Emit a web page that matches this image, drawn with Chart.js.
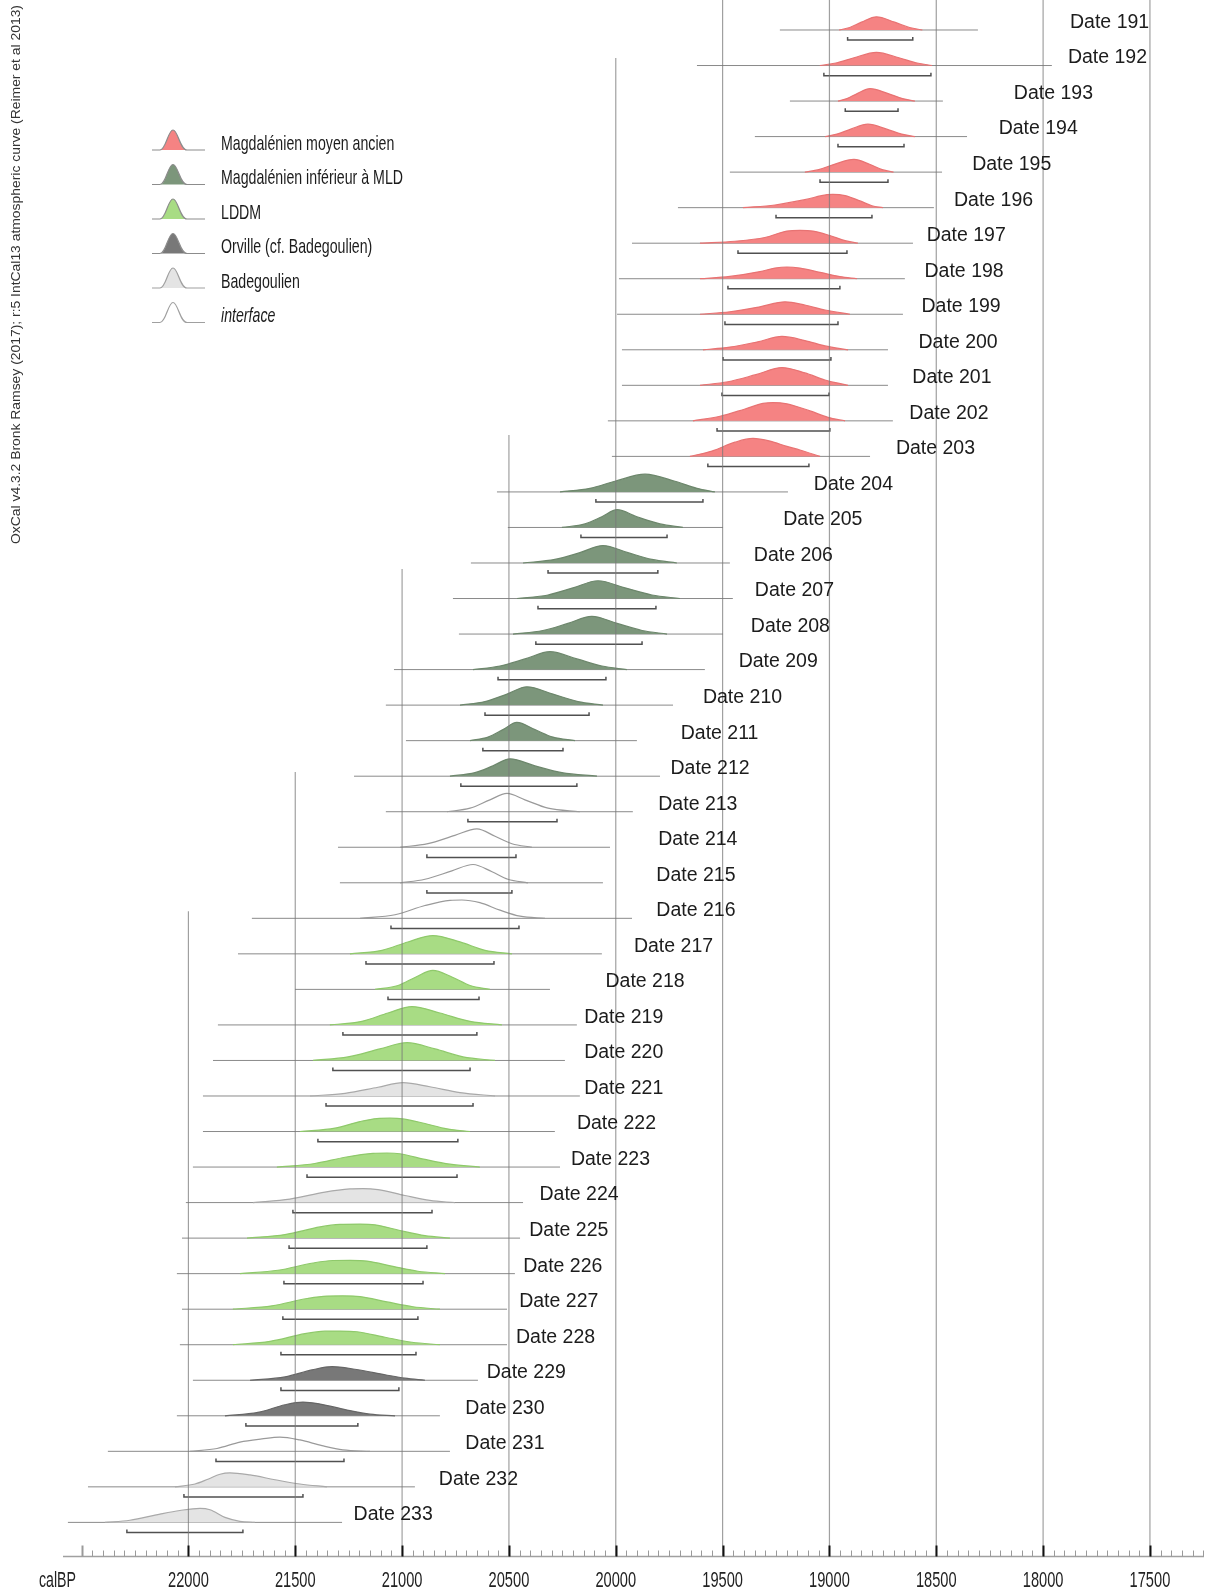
<!DOCTYPE html>
<html>
<head>
<meta charset="utf-8">
<script src="https://cdn.jsdelivr.net/npm/chart.js@4.4.0/dist/chart.umd.min.js"></script>
<style>
  html, body { margin: 0; padding: 0; background: #fff; }
  #wrap { width: 1207px; height: 1593px; position: relative; }
</style>
</head>
<body>
<div id="wrap"><canvas id="oxcalChart" width="1207" height="1593"></canvas></div>
<script>
// Row labels, top to bottom
const dateLabels = ['Date 191', 'Date 192', 'Date 193', 'Date 194', 'Date 195', 'Date 196', 'Date 197',
    'Date 198', 'Date 199', 'Date 200', 'Date 201', 'Date 202', 'Date 203', 'Date 204', 'Date 205',
    'Date 206', 'Date 207', 'Date 208', 'Date 209', 'Date 210', 'Date 211', 'Date 212', 'Date 213',
    'Date 214', 'Date 215', 'Date 216', 'Date 217', 'Date 218', 'Date 219', 'Date 220', 'Date 221',
    'Date 222', 'Date 223', 'Date 224', 'Date 225', 'Date 226', 'Date 227', 'Date 228', 'Date 229',
    'Date 230', 'Date 231', 'Date 232', 'Date 233'];

// Cultural groups (legend order)
const groupNames = ['Magdalénien moyen ancien', 'Magdalénien inférieur à MLD', 'LDDM',
    'Orville (cf. Badegoulien)', 'Badegoulien', 'interface'];

// Group of each date
const dateGroup = [0, 0, 0, 0, 0, 0, 0, 0, 0, 0, 0, 0, 0,
    1, 1, 1, 1, 1, 1, 1, 1, 1,
    5, 5, 5, 5,
    2, 2, 2, 2, 4, 2, 2, 4, 2, 2, 2, 2,
    3, 3, 5, 4, 4];

// Extent of the plotted distribution (calBP)
const rangeFrom = [19232, 19620, 19185, 19349, 19466, 19709, 19924, 19985, 19994, 19971, 19971, 20037, 20018,
    20556, 20505, 20678, 20762, 20734, 21038, 21076, 20982, 21225, 21076, 21300, 21291, 21703, 21768,
    21501, 21862, 21885, 21932, 21932, 21979, 22012, 22030, 22054, 22030, 22040, 21979, 22054, 22377,
    22470, 22564];
const rangeTo = [18305, 17959, 18469, 18356, 18473, 18511, 18609, 18647, 18656, 18726, 18726, 18703, 18810,
    19194, 19498, 19466, 19452, 19498, 19583, 19732, 19901, 19793, 19920, 20027, 20060, 19924, 20065,
    20308, 20182, 20238, 20168, 20285, 20261, 20434, 20448, 20472, 20509, 20509, 20645, 20823, 20776,
    20940, 21281];

// 95.4% ranges (brackets)
const hpdFrom = [18915, 19026, 18926, 18960, 19044, 19250, 19428, 19475, 19489, 19498, 19503, 19526, 19569,
    20093, 20163, 20317, 20364, 20374, 20551, 20612, 20622, 20725, 20692, 20884, 20884, 21052, 21169,
    21066, 21277, 21324, 21356, 21394, 21445, 21511, 21529, 21553, 21558, 21567, 21567, 21731, 21871,
    22021, 22288];
const hpdTo = [18610, 18525, 18679, 18651, 18726, 18801, 18918, 18951, 18960, 18993, 19002, 18998, 19096,
    19592, 19760, 19803, 19812, 19877, 20046, 20125, 20247, 20182, 20275, 20467, 20486, 20453, 20570,
    20640, 20650, 20682, 20668, 20739, 20743, 20860, 20884, 20902, 20926, 20935, 21015, 21207, 21272,
    21464, 21745];

// Where each label starts (calBP)
const labelAt = [17874, 17884, 18137, 18208, 18332, 18417, 18545, 18555, 18569, 18583, 18612, 18626, 18689,
    19073, 19216, 19354, 19349, 19368, 19425, 19592, 19696, 19744, 19801, 19801, 19810, 19810, 19915,
    20048, 20148, 20148, 20148, 20182, 20210, 20357, 20405, 20433, 20452, 20467, 20604, 20704, 20704,
    20828, 21227];

// Probability curves: [calBP, height in row units]
const densities = [
    [[18955, 0], [18905, .07], [18850, .22], [18780, .37], [18695, .22], [18625, .07], [18565, 0]],
    [[19045, 0], [18970, .07], [18885, .22], [18780, .37], [18675, .22], [18590, .07], [18520, 0]],
    [[18960, 0], [18918, .07], [18870, .21], [18810, .35], [18725, .21], [18658, .07], [18600, 0]],
    [[19020, 0], [18965, .07], [18900, .21], [18820, .35], [18732, .21], [18662, .07], [18600, 0]],
    [[19115, 0], [19050, .07], [18977, .22], [18885, .36], [18812, .22], [18753, .07], [18700, 0]],
    [[19405, 0], [19255, .075], [19115, .225], [19012, .365], [18984, .375], [18927, .34], [18857, .19], [18801, .055], [18750, 0]],
    [[19606, 0], [19442, .054], [19302, .16], [19199, .34], [19138, .36], [19077, .34], [18998, .215], [18927, .072], [18867, 0]],
    [[19606, 0], [19466, .066], [19325, .2], [19255, .3], [19199, .33], [19138, .3], [19044, .18], [18951, .06], [18871, 0]],
    [[19606, 0], [19466, .07], [19325, .21], [19208, .35], [19115, .26], [19021, .12], [18904, 0]],
    [[19592, 0], [19466, .075], [19335, .225], [19222, .375], [19115, .26], [19021, .11], [18913, 0]],
    [[19606, 0], [19475, .1], [19344, .3], [19222, .5], [19115, .35], [19021, .15], [18913, 0]],
    [[19639, 0], [19512, .13], [19395, .335], [19311, .49], [19264, .515], [19199, .48], [19091, .28], [19007, .1], [18927, 0]],
    [[19653, 0], [19550, .15], [19442, .4], [19358, .505], [19278, .43], [19199, .28], [19138, .18], [19044, 0]],
    [[20261, 0], [20121, .1], [20004, .3], [19863, .5], [19723, .3], [19620, .1], [19536, 0]],
    [[20252, 0], [20144, .1], [20065, .3], [19994, .5], [19901, .3], [19793, .1], [19686, 0]],
    [[20434, 0], [20285, .1], [20168, .29], [20060, .49], [19943, .29], [19831, .1], [19714, 0]],
    [[20462, 0], [20317, .1], [20200, .3], [20083, .5], [19957, .3], [19831, .1], [19700, 0]],
    [[20481, 0], [20341, .1], [20224, .3], [20112, .5], [19994, .3], [19877, .1], [19760, 0]],
    [[20668, 0], [20542, .1], [20425, .3], [20308, .505], [20182, .3], [20065, .1], [19948, 0]],
    [[20729, 0], [20612, .1], [20509, .31], [20416, .515], [20294, .31], [20177, .1], [20060, 0]],
    [[20682, 0], [20598, .1], [20528, .31], [20463, .515], [20378, .31], [20294, .1], [20191, 0]],
    [[20776, 0], [20659, .1], [20575, .29], [20495, .49], [20378, .29], [20252, .1], [20088, 0]],
    [[20790, 0], [20682, .1], [20589, .335], [20509, .515], [20425, .335], [20317, .1], [20168, 0]],
    [[21010, 0], [20879, .1], [20753, .335], [20650, .515], [20565, .31], [20486, .1], [20392, 0]],
    [[21010, 0], [20893, .1], [20767, .335], [20668, .515], [20579, .31], [20505, .1], [20411, 0]],
    [[21197, 0], [21033, .1], [20893, .36], [20776, .505], [20720, .515], [20636, .44], [20542, .23], [20448, .06], [20331, 0]],
    [[21244, 0], [21094, .1], [20973, .335], [20856, .515], [20729, .335], [20612, .1], [20486, 0]],
    [[21127, 0], [21019, .11], [20935, .35], [20856, .535], [20767, .35], [20682, .11], [20589, 0]],
    [[21338, 0], [21188, .1], [21066, .335], [20954, .515], [20823, .335], [20682, .1], [20533, 0]],
    [[21417, 0], [21253, .1], [21104, .325], [20977, .5], [20846, .325], [20715, .1], [20565, 0]],
    [[21431, 0], [21267, .075], [21113, .245], [20996, .375], [20870, .26], [20729, .095], [20565, 0]],
    [[21478, 0], [21314, .095], [21197, .28], [21118, .365], [21057, .375], [20996, .355], [20893, .225], [20790, .075], [20682, 0]],
    [[21586, 0], [21408, .1], [21267, .275], [21136, .385], [21071, .395], [21010, .375], [20893, .215], [20776, .08], [20636, 0]],
    [[21698, 0], [21525, .1], [21361, .295], [21244, .385], [21183, .395], [21113, .365], [20987, .2], [20870, .06], [20753, 0]],
    [[21726, 0], [21548, .1], [21384, .315], [21291, .385], [21197, .395], [21127, .375], [21010, .215], [20893, .07], [20776, 0]],
    [[21759, 0], [21581, .095], [21417, .3], [21324, .37], [21244, .375], [21164, .355], [21043, .205], [20926, .068], [20799, 0]],
    [[21792, 0], [21609, .095], [21445, .3], [21352, .37], [21277, .375], [21197, .355], [21071, .205], [20949, .068], [20823, 0]],
    [[21792, 0], [21618, .095], [21455, .31], [21361, .38], [21291, .385], [21211, .365], [21080, .21], [20954, .07], [20823, 0]],
    [[21712, 0], [21548, .095], [21422, .29], [21328, .385], [21221, .31], [21080, .155], [20987, .058], [20893, 0]],
    [[21829, 0], [21675, .095], [21548, .31], [21464, .385], [21384, .33], [21267, .175], [21150, .045], [21033, 0]],
    [[21993, 0], [21866, .08], [21759, .26], [21656, .35], [21572, .4], [21478, .32], [21375, .16], [21277, .04], [21150, 0]],
    [[22063, 0], [21969, .08], [21909, .215], [21852, .355], [21806, .395], [21712, .335], [21595, .2], [21478, .08], [21352, 0]],
    [[22391, 0], [22274, .06], [22133, .235], [22040, .335], [21946, .395], [21899, .355], [21829, .14], [21759, .03], [21689, 0]]
];

// Axis ticks / vertical guide lines, and the row where each guide line starts
const tickLabels = [22000, 21500, 21000, 20500, 20000, 19500, 19000, 18500, 18000, 17500];
const gridFromRow = [24.8, 20.88, 15.17, 11.4, 0.79, -0.85, -0.85, -0.85, -0.85, -0.85];

const axisRow = 42.96;
const fillColors = ['#f58383', '#7c967b', '#a8dc84', '#787878', '#e4e4e4', 'rgba(0,0,0,0)'];
const lineColors = ['#e87373', '#6d876c', '#8fc96b', '#666666', '#a9a9a9', '#9a9a9a'];

// Build the datasets
const datasets = [];
dateLabels.forEach((name, i) => {
    const g = dateGroup[i];
    datasets.push({
        label: name + ' curve',
        data: densities[i].map(p => ({ x: p[0], y: i - p[1] })),
        borderColor: lineColors[g],
        borderWidth: 1.2,
        backgroundColor: fillColors[g],
        fill: g === 5 ? false : { value: i },
        cubicInterpolationMode: 'monotone',
        pointRadius: 0,
        order: 2
    });
    datasets.push({
        label: name + ' range',
        data: [{ x: rangeFrom[i], y: i }, { x: rangeTo[i], y: i }],
        borderColor: '#8a8a8a',
        borderWidth: 1,
        pointRadius: 0,
        fill: false,
        order: 3
    });
    const by = i + 0.285;
    datasets.push({
        label: name + ' 95%',
        data: [{ x: hpdFrom[i], y: by - 0.085 }, { x: hpdFrom[i], y: by },
               { x: hpdTo[i], y: by }, { x: hpdTo[i], y: by - 0.085 }],
        borderColor: '#505050',
        borderWidth: 1.5,
        pointRadius: 0,
        fill: false,
        order: 1
    });
});
tickLabels.forEach((v, k) => {
    datasets.push({
        label: 'grid ' + v,
        data: [{ x: v, y: gridFromRow[k] }, { x: v, y: axisRow }],
        borderColor: 'rgba(120,120,120,0.7)',
        borderWidth: 1.2,
        pointRadius: 0,
        fill: false,
        order: -1
    });
});

// Text drawn horizontally squeezed, like the narrow font of the original
function narrowText(ctx, text, x, y, size, squeeze, align, italic) {
    ctx.save();
    ctx.translate(x, y);
    ctx.scale(squeeze, 1);
    ctx.font = (italic ? 'italic ' : '') + size + 'px "Liberation Sans", Arial, sans-serif';
    ctx.textAlign = align;
    ctx.textBaseline = 'middle';
    ctx.fillText(text, 0, 0);
    ctx.restore();
}

const oxcalDecor = {
    id: 'oxcalDecor',
    afterDraw(chart) {
        const ctx = chart.ctx;
        const xs = chart.scales.x;
        const ys = chart.scales.y;
        const area = chart.chartArea;

        // Date labels
        ctx.save();
        ctx.fillStyle = '#1c1c1c';
        ctx.font = '19.5px "Liberation Sans", Arial, sans-serif';
        ctx.textBaseline = 'middle';
        dateLabels.forEach((t, i) => {
            ctx.fillText(t, xs.getPixelForValue(labelAt[i]), ys.getPixelForValue(i) - 7.5);
        });
        ctx.restore();

        // Time axis
        const base = ys.getPixelForValue(axisRow);
        ctx.save();
        ctx.strokeStyle = '#a0a0a0';
        ctx.lineWidth = 1.5;
        ctx.beginPath();
        ctx.moveTo(area.left, base);
        ctx.lineTo(area.right, base);
        ctx.stroke();
        for (let v = 17250; v <= 22500; v += 50) {
            const px = Math.round(xs.getPixelForValue(v)) + 0.5;
            const major = v % 500 === 0;
            ctx.strokeStyle = major && v <= 22000 ? '#111' : '#9a9a9a';
            ctx.lineWidth = major ? 2 : 1;
            ctx.beginPath();
            ctx.moveTo(px, base);
            ctx.lineTo(px, base - (major ? 11 : 6));
            ctx.stroke();
        }
        ctx.fillStyle = '#222';
        tickLabels.forEach(v => narrowText(ctx, String(v), xs.getPixelForValue(v), base + 24.5, 22.5, 0.65, 'center'));
        narrowText(ctx, 'calBP', 39, base + 24.5, 22.5, 0.63, 'left');
        ctx.restore();

        // Legend
        ctx.save();
        groupNames.forEach((name, g) => {
            const b = 150 + 34.5 * g;
            ctx.beginPath();
            ctx.moveTo(152, b);
            ctx.lineTo(160, b);
            ctx.bezierCurveTo(166, b, 168, b - 20, 173, b - 20);
            ctx.bezierCurveTo(178, b - 20, 180, b, 187, b);
            ctx.lineTo(205, b);
            if (g !== 5) {
                ctx.fillStyle = fillColors[g];
                ctx.fill();
            }
            ctx.strokeStyle = g === 5 || g === 4 ? '#a0a0a0' : '#8c8c8c';
            ctx.lineWidth = 1.2;
            ctx.stroke();
            ctx.fillStyle = '#1c1c1c';
            narrowText(ctx, name, 221, b - 6, 21, 0.675, 'left', g === 5);
        });
        ctx.restore();

        // Software credit on the left edge
        ctx.save();
        const credit = 'OxCal v4.3.2 Bronk Ramsey (2017); r:5 IntCal13 atmospheric curve (Reimer et al 2013)';
        ctx.font = '13px "Liberation Sans", Arial, sans-serif';
        const w = ctx.measureText(credit).width;
        ctx.translate(16.5, 274.5);
        ctx.rotate(-Math.PI / 2);
        ctx.scale(539 / w, 1);
        ctx.fillStyle = '#333';
        ctx.textAlign = 'center';
        ctx.textBaseline = 'middle';
        ctx.fillText(credit, 0, 0);
        ctx.restore();
    }
};

new Chart(document.getElementById('oxcalChart').getContext('2d'), {
    type: 'line',
    data: { datasets: datasets },
    options: {
        responsive: false,
        animation: false,
        events: [],
        layout: { padding: { left: 63, right: 3, top: 0, bottom: 36.5 } },
        scales: {
            x: { type: 'linear', min: 17247, max: 22587, reverse: true, display: false },
            y: { type: 'linear', min: -0.844, max: axisRow, reverse: true, display: false }
        },
        plugins: {
            legend: { display: false },
            tooltip: { enabled: false }
        }
    },
    plugins: [oxcalDecor]
});
</script>
</body>
</html>
